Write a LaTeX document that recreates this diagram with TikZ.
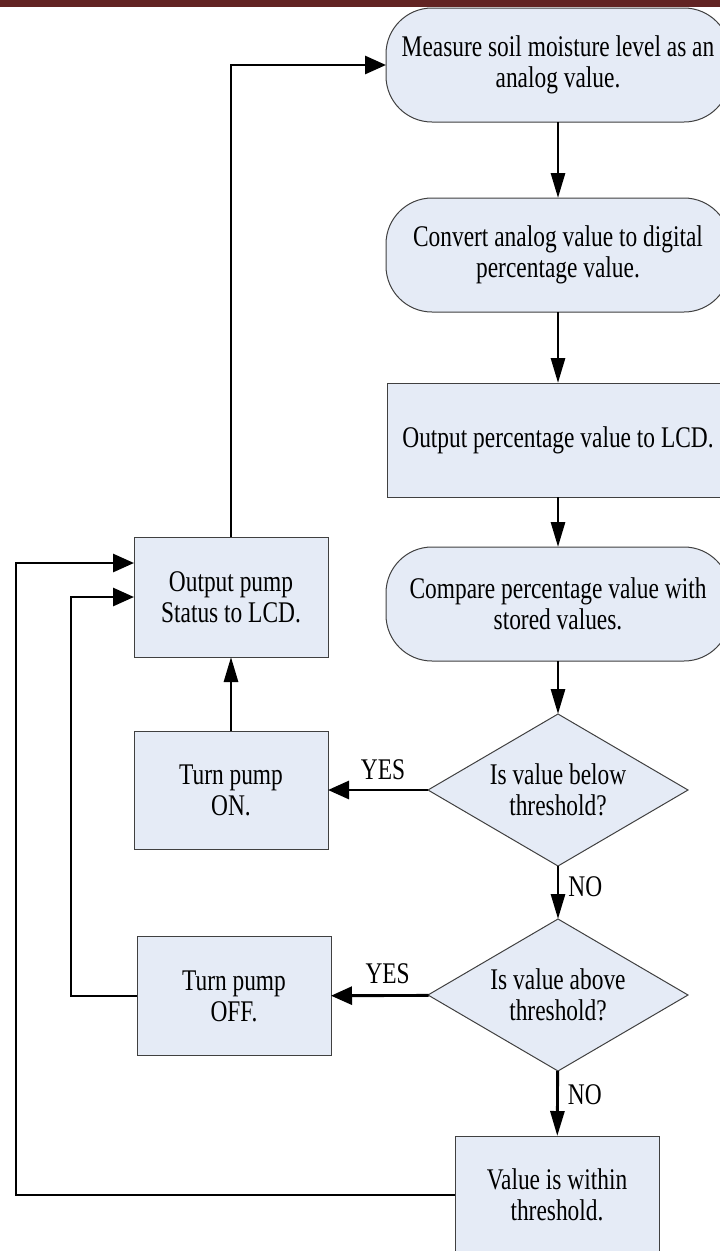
\documentclass[tikz,border=0pt]{standalone}
\usepackage{fontspec}
\setmainfont{Liberation Serif}[FakeStretch=0.78]
\usepackage{tikz}
\usetikzlibrary{arrows.meta}
\usetikzlibrary{shapes.geometric}
\definecolor{boxfill}{RGB}{229,235,246}
\definecolor{boxline}{RGB}{64,64,64}
\definecolor{topbar}{RGB}{98,36,35}
\tikzset{
  shapebase/.style={draw=boxline, line width=1pt, fill=boxfill, inner sep=0pt, outer sep=0pt, align=center, font=\fontsize{30}{31}\selectfont},
  terminal/.style={shapebase, rectangle, rounded corners=46pt, minimum width=344pt, minimum height=114pt},
  process/.style={shapebase, rectangle, minimum width=194pt, minimum height=119pt},
  decision/.style={shapebase, diamond, aspect=1.7, minimum width=260pt, minimum height=152pt},
  varrow/.style={line width=2.9pt, -{Triangle[length=25pt,width=14pt]}},
  harrow/.style={line width=2.9pt, -{Triangle[length=21pt,width=18pt]}},
  answer/.style={font=\fontsize{30}{31}\selectfont, inner sep=0pt},
}

\begin{document}
\begin{tikzpicture}[x=1pt,y=-1pt]
\clip (0,0) rectangle (720,1251);
\fill[topbar] (0,0) rectangle (720,7);
% main column
\node[terminal] (measure) at (558,65) {Measure soil moisture level as an\\analog value.};
\node[terminal] (convert) at (558,255) {Convert analog value to digital\\percentage value.};
\node[process, minimum width=342pt, minimum height=114pt] (lcdout) at (558,440) {Output percentage value to LCD.};
\node[terminal] (compare) at (558,604) {Compare percentage value with\\stored values.};
\node[decision] (below) at (558,790) {Is value below\\threshold?};
\node[decision] (above) at (558,995) {Is value above\\threshold?};
\node[process, minimum width=204pt, minimum height=118pt] (within) at (557,1195) {Value is within\\threshold.};
% pump column
\node[process, minimum height=120pt] (pumpout) at (231,597) {Output pump\\Status to LCD.};
\node[process, minimum height=118pt] (pumpon) at (231,790) {Turn pump\\ON.};
\node[process] (pumpoff) at (234,996) {Turn pump\\OFF.};
\coordinate (offcorner) at (71,996);
\coordinate (withincorner) at (16,1195);
% connectors
\draw[varrow] (measure) -- (convert);
\draw[varrow] (convert) -- (lcdout);
\draw[varrow] (lcdout) -- (compare);
\draw[varrow] (compare) -- (below);
\draw[varrow] (below) -- (above) node[answer, pos=0.4, right=9pt] {NO};
\draw[varrow] (above) -- (within) node[answer, pos=0.36, right=9pt] {NO};
\draw[harrow] (below) -- (pumpon) node[answer, pos=0.45, above=9pt] {YES};
\draw[harrow] (above) -- (pumpoff) node[answer, pos=0.42, above=10pt] {YES};
\draw[varrow] (pumpon) -- (pumpout);
\draw[harrow] (pumpout.north) |- (measure.west);
\draw[harrow] (pumpoff.west) -- (offcorner) |- (pumpout.west);
\draw[harrow] (within.west) -- (withincorner) |- ([yshift=34pt]pumpout.west);
\end{tikzpicture}
\end{document}
